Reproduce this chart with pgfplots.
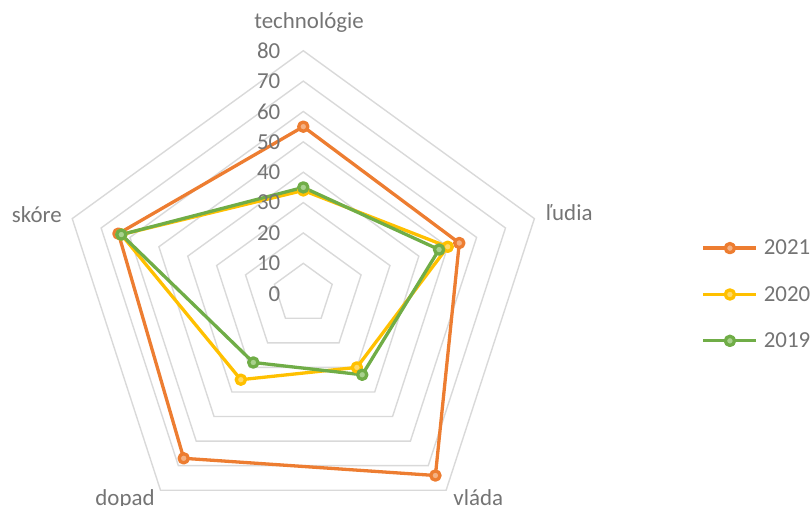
\documentclass[border=0pt]{standalone}
\usepackage{pgfplots}
\pgfplotsset{compat=1.18}
\usepackage{fontspec}
\setmainfont{Carlito}

\definecolor{c21}{HTML}{ED7D31}
\definecolor{c21f}{HTML}{F4B183}
\definecolor{c20}{HTML}{FFC000}
\definecolor{c20f}{HTML}{FFD966}
\definecolor{c19}{HTML}{70AD47}
\definecolor{c19f}{HTML}{A9D18E}
\definecolor{gridgray}{HTML}{D9D9D9}
\definecolor{labelgray}{HTML}{747474}

% spoke angles: technológie 90, ľudia 18, vláda -54, dopad -126, skóre 162
\pgfplotsset{
  ring/.style={draw=gridgray, line width=1.4bp, line join=miter, data cs=polar, forget plot},
  series/.style={line width=3.3bp, line join=round, data cs=polar, mark=*, mark size=4.6bp,
                 mark options={line width=1.4bp, solid}},
}

\begin{document}
\begin{tikzpicture}
\begin{axis}[
  at={(0,0)}, anchor=south west,
  scale only axis, width=811bp, height=506bp,
  xmin=-99.87, xmax=167.17, ymin=-69.91, ymax=96.71,
  hide axis, clip=false,
  font=\fontsize{23}{27}\selectfont,
  legend cell align=left,
  legend style={draw=none, fill=none, inner sep=0pt, outer sep=0pt,
    at={(axis cs:131.2,17.7)}, anchor=north west,
    row sep=30bp, text=labelgray,
    nodes={inner sep=0pt},
    /tikz/every odd column/.append style={column sep=5.7bp},
    font=\fontsize{23}{27}\selectfont},
  legend image code/.code={
    \draw[#1, mark repeat=2, mark phase=2]
      plot coordinates {(0bp,0bp) (26.5bp,0bp) (53bp,0bp)};
  },
]
% pentagon grid
\addplot[ring] coordinates {(90,10) (18,10) (-54,10) (-126,10) (162,10)} -- cycle;
\addplot[ring] coordinates {(90,20) (18,20) (-54,20) (-126,20) (162,20)} -- cycle;
\addplot[ring] coordinates {(90,30) (18,30) (-54,30) (-126,30) (162,30)} -- cycle;
\addplot[ring] coordinates {(90,40) (18,40) (-54,40) (-126,40) (162,40)} -- cycle;
\addplot[ring] coordinates {(90,50) (18,50) (-54,50) (-126,50) (162,50)} -- cycle;
\addplot[ring] coordinates {(90,60) (18,60) (-54,60) (-126,60) (162,60)} -- cycle;
\addplot[ring] coordinates {(90,70) (18,70) (-54,70) (-126,70) (162,70)} -- cycle;
\addplot[ring] coordinates {(90,80) (18,80) (-54,80) (-126,80) (162,80)} -- cycle;

% series
\addplot[series, c21, mark options={fill=c21f, draw=c21}]
  coordinates {(90,55) (18,54) (-54,74) (-126,67) (162,64)} -- cycle;
\addlegendentry{2021}
\addplot[series, c20, mark options={fill=c20f, draw=c20}]
  coordinates {(90,34) (18,50) (-54,30) (-126,35) (162,63)} -- cycle;
\addlegendentry{2020}
\addplot[series, c19, mark options={fill=c19f, draw=c19}]
  coordinates {(90,35) (18,47) (-54,33) (-126,28) (162,63)} -- cycle;
\addlegendentry{2019}

% value labels
\pgfplotsinvokeforeach{0,10,...,80}{
  \node[anchor=east, text=labelgray, inner sep=0pt] at (axis cs:-7.5,#1) {#1};
}

% category labels
\node[text=labelgray, inner sep=0pt] at (axis cs:1.9,89.4) {technológie};
\node[anchor=west, text=labelgray, inner sep=0pt] at (axis cs:79.9,26.6) {ľudia};
\node[anchor=east, text=labelgray, inner sep=0pt] at (axis cs:-79.5,25.9) {skóre};
\node[anchor=base, text=labelgray, inner sep=0pt] at (axis cs:-58.7,-69.7) {dopad};
\node[anchor=base, text=labelgray, inner sep=0pt] at (axis cs:57.6,-69.7) {vláda};
\end{axis}
\pgfresetboundingbox
\useasboundingbox (0,0) rectangle (811bp,506bp);
\end{tikzpicture}
\end{document}
